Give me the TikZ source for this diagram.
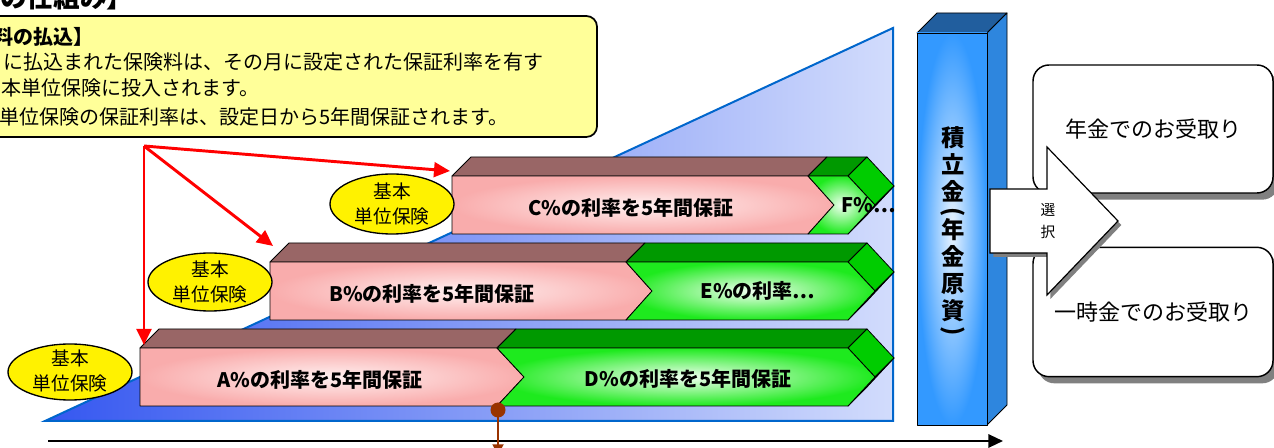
\documentclass[tikz,border=0pt]{standalone}
\usepackage{fontspec}
\setmainfont{Noto Sans CJK JP}
\usepackage{tikz}
\usetikzlibrary{arrows.meta,shadows}

\definecolor{notebg}{HTML}{FFFF99}
\definecolor{pinkface}{HTML}{F9ACAC}
\definecolor{pinklight}{HTML}{FFF0F0}
\definecolor{topbrown}{HTML}{996666}
\definecolor{greenface}{HTML}{1EEA1E}
\definecolor{greenlight}{HTML}{F0FFF0}
\definecolor{greentop}{HTML}{009900}
\definecolor{greenside}{HTML}{00CC00}
\definecolor{baseleft}{HTML}{3557F0}
\definecolor{baseright}{HTML}{D2DCFC}
\definecolor{baseedge}{HTML}{0066CC}
\definecolor{colfront}{HTML}{3399FF}
\definecolor{colmid}{HTML}{E8F3FF}
\definecolor{coltop}{HTML}{215E9E}
\definecolor{colside}{HTML}{2E86DE}
\definecolor{inred}{HTML}{FF0000}
\definecolor{markbrown}{HTML}{993300}
\definecolor{shadowgray}{HTML}{808080}

\tikzset{
  edge/.style={draw=black,line width=0.6pt,line join=round},
  browntopface/.style={edge,fill=topbrown},
  pinkfront/.style={edge,inner color=pinklight,outer color=pinkface},
  greentopface/.style={edge,fill=greentop},
  greensideface/.style={edge,fill=greenside},
  greenfront/.style={edge,inner color=greenlight,outer color=greenface},
  bartext/.style={inner sep=0,font=\bfseries\fontsize{15}{18}\selectfont},
  notetext/.style={anchor=west,inner sep=0,font=\fontsize{15}{18}\selectfont},
  unitshape/.style={draw=black,line width=1pt,fill=yellow},
  unittext/.style={inner sep=0,align=center,font=\fontsize{14}{18.75}\selectfont},
  inflow/.style={draw=inred,line width=2.2pt,-{Triangle[length=12pt,width=11pt]}},
  resultbox/.style={draw=black,line width=1.1pt,rounded corners=12pt,fill=white,
    minimum width=180pt,font=\fontsize{16.5}{20}\selectfont,
    drop shadow={shadow xshift=4pt,shadow yshift=-5pt,fill=shadowgray,opacity=1}},
}
\newcommand{\vparen}[1]{\rotatebox[origin=c]{-90}{#1}}

\begin{document}
\begin{tikzpicture}[x=0.75pt,y=0.75pt,yscale=-1,xscale=1]
\useasboundingbox (0,0) rectangle (1274,448);

%Title
\node[anchor=base west,inner sep=0,font=\bfseries\fontsize{20}{24}\selectfont] (title) at (0,8) {の仕組み】};

%Note box
\draw[draw=black,line width=1.3pt,fill=notebg,rounded corners=8pt] (-30,16) rectangle (597,137);
\node[notetext,font=\bfseries\fontsize{15}{18}\selectfont] (note1) at (-7,37) {料の払込】};
\node[notetext] (note2) at (3,62) {に払込まれた保険料は、その月に設定された保証利率を有す};
\node[notetext] (note3) at (1,88) {本単位保険に投入されます。};
\node[notetext] (note4) at (-1,117) {単位保険の保証利率は、設定日から5年間保証されます。};

%Shape: base
\draw[draw=baseedge,line width=1.5pt,left color=baseleft,right color=baseright] (45,421) -- (893,28) -- (893,421) -- cycle;

%Shape: bar C
\draw[browntopface] (452,176) -- (808,176) -- (827,157) -- (471,157) -- cycle;
\draw[greentopface] (808,176) -- (848,176) -- (867,157) -- (827,157) -- cycle;
\draw[greensideface] (848,176) -- (867,157) -- (894,186) -- (875,205) -- cycle;
\draw[greensideface] (875,205) -- (894,186) -- (867,215) -- (848,234) -- cycle;
\draw[pinkfront] (452,176) -- (808,176) -- (834,205) -- (808,234) -- (452,234) -- cycle;
\draw[greenfront] (808,176) -- (848,176) -- (875,205) -- (848,234) -- (808,234) -- (834,205) -- cycle;
\node[bartext] (rateC) at (631,208) {C\%の利率を5年間保証};
\node[bartext] (rateF) at (869,205) {F\%⋯};

%Shape: bar B
\draw[browntopface] (270,262) -- (626,262) -- (645,243) -- (289,243) -- cycle;
\draw[greentopface] (626,262) -- (848,262) -- (867,243) -- (645,243) -- cycle;
\draw[greensideface] (848,262) -- (867,243) -- (894,272) -- (875,291) -- cycle;
\draw[greensideface] (875,291) -- (894,272) -- (867,301) -- (848,320) -- cycle;
\draw[pinkfront] (270,262) -- (626,262) -- (652,291) -- (626,320) -- (270,320) -- cycle;
\draw[greenfront] (626,262) -- (848,262) -- (875,291) -- (848,320) -- (626,320) -- (652,291) -- cycle;
\node[bartext] (rateB) at (432,294) {B\%の利率を5年間保証};
\node[bartext] (rateE) at (758,291) {E\%の利率⋯};

%Shape: bar A
\draw[browntopface] (140,348) -- (497,348) -- (516,329) -- (159,329) -- cycle;
\draw[greentopface] (497,348) -- (848,348) -- (867,329) -- (516,329) -- cycle;
\draw[greensideface] (848,348) -- (867,329) -- (894,358) -- (875,377) -- cycle;
\draw[greensideface] (875,377) -- (894,358) -- (867,387) -- (848,406) -- cycle;
\draw[pinkfront] (140,348) -- (497,348) -- (524,377) -- (497,406) -- (140,406) -- cycle;
\draw[greenfront] (497,348) -- (848,348) -- (875,377) -- (848,406) -- (497,406) -- (524,377) -- cycle;
\node[bartext] (rateA) at (320,380) {A\%の利率を5年間保証};
\node[bartext] (rateD) at (688,379) {D\%の利率を5年間保証};

%Shape: unit ellipses
\draw[unitshape] (392,204) ellipse [x radius=62,y radius=30];
\node[unittext] (unitC) at (392,204) {基本\\単位保険};
\draw[unitshape] (210,282) ellipse [x radius=62,y radius=29];
\node[unittext] (unitB) at (210,282) {基本\\単位保険};
\draw[unitshape] (70,372) ellipse [x radius=62,y radius=28];
\node[unittext] (unitA) at (70,371) {基本\\単位保険};

%Red arrows
\coordinate (src) at (144,146);
\coordinate (tipA) at (144,345);
\coordinate (tipB) at (273,246);
\coordinate (tipC) at (450,171);
\draw[inflow] (src) -- (tipA);
\draw[inflow] (src) -- (tipB);
\draw[inflow] (src) -- (tipC);

%Time axis
\coordinate (t0) at (48,441);
\coordinate (t1) at (1003,441);
\draw[line width=1.6pt,-{Triangle[length=11pt,width=10pt]}] (t0) -- (t1);

%Marker
\coordinate (mark) at (498,410);
\coordinate (markEnd) at (498,455);
\draw[draw=markbrown,line width=2pt,-{Triangle[length=8pt,width=8pt]}] (mark) -- (markEnd);
\fill[markbrown] (mark) circle [radius=7.5];

%Shape: column
\draw[edge,fill=coltop] (917,33) -- (987,33) -- (1007,13) -- (937,13) -- cycle;
\draw[edge,fill=colside] (987,33) -- (1007,13) -- (1007,405) -- (987,425) -- cycle;
\draw[edge,inner color=colmid,outer color=colfront] (917,33) rectangle (987,425);
\node[inner sep=0,align=center,font=\bfseries\fontsize{17.5}{20.25}\selectfont] (fund) at (953,233)
  {積\\立\\金\\[-6pt]\vparen{(}\\[-6pt]年\\金\\原\\資\\[-6pt]\vparen{)}};

%Result boxes
\node[resultbox,minimum height=96pt] (pension) at (1153,129) {年金でのお受取り};
\node[resultbox,minimum height=97pt] (lump) at (1153,312) {一時金でのお受取り};

%Shape: choice arrow
\draw[draw=black,line width=0.9pt,fill=white,drop shadow={shadow xshift=2.5pt,shadow yshift=-3pt,fill=shadowgray,opacity=1}]
  (990,189) -- (1047,189) -- (1047,147) -- (1118,221) -- (1047,295) -- (1047,253) -- (990,253) -- cycle;
\node[inner sep=0,align=center,font=\fontsize{11}{16}\selectfont] (choice) at (1048,221) {選\\択};

\end{tikzpicture}
\end{document}
